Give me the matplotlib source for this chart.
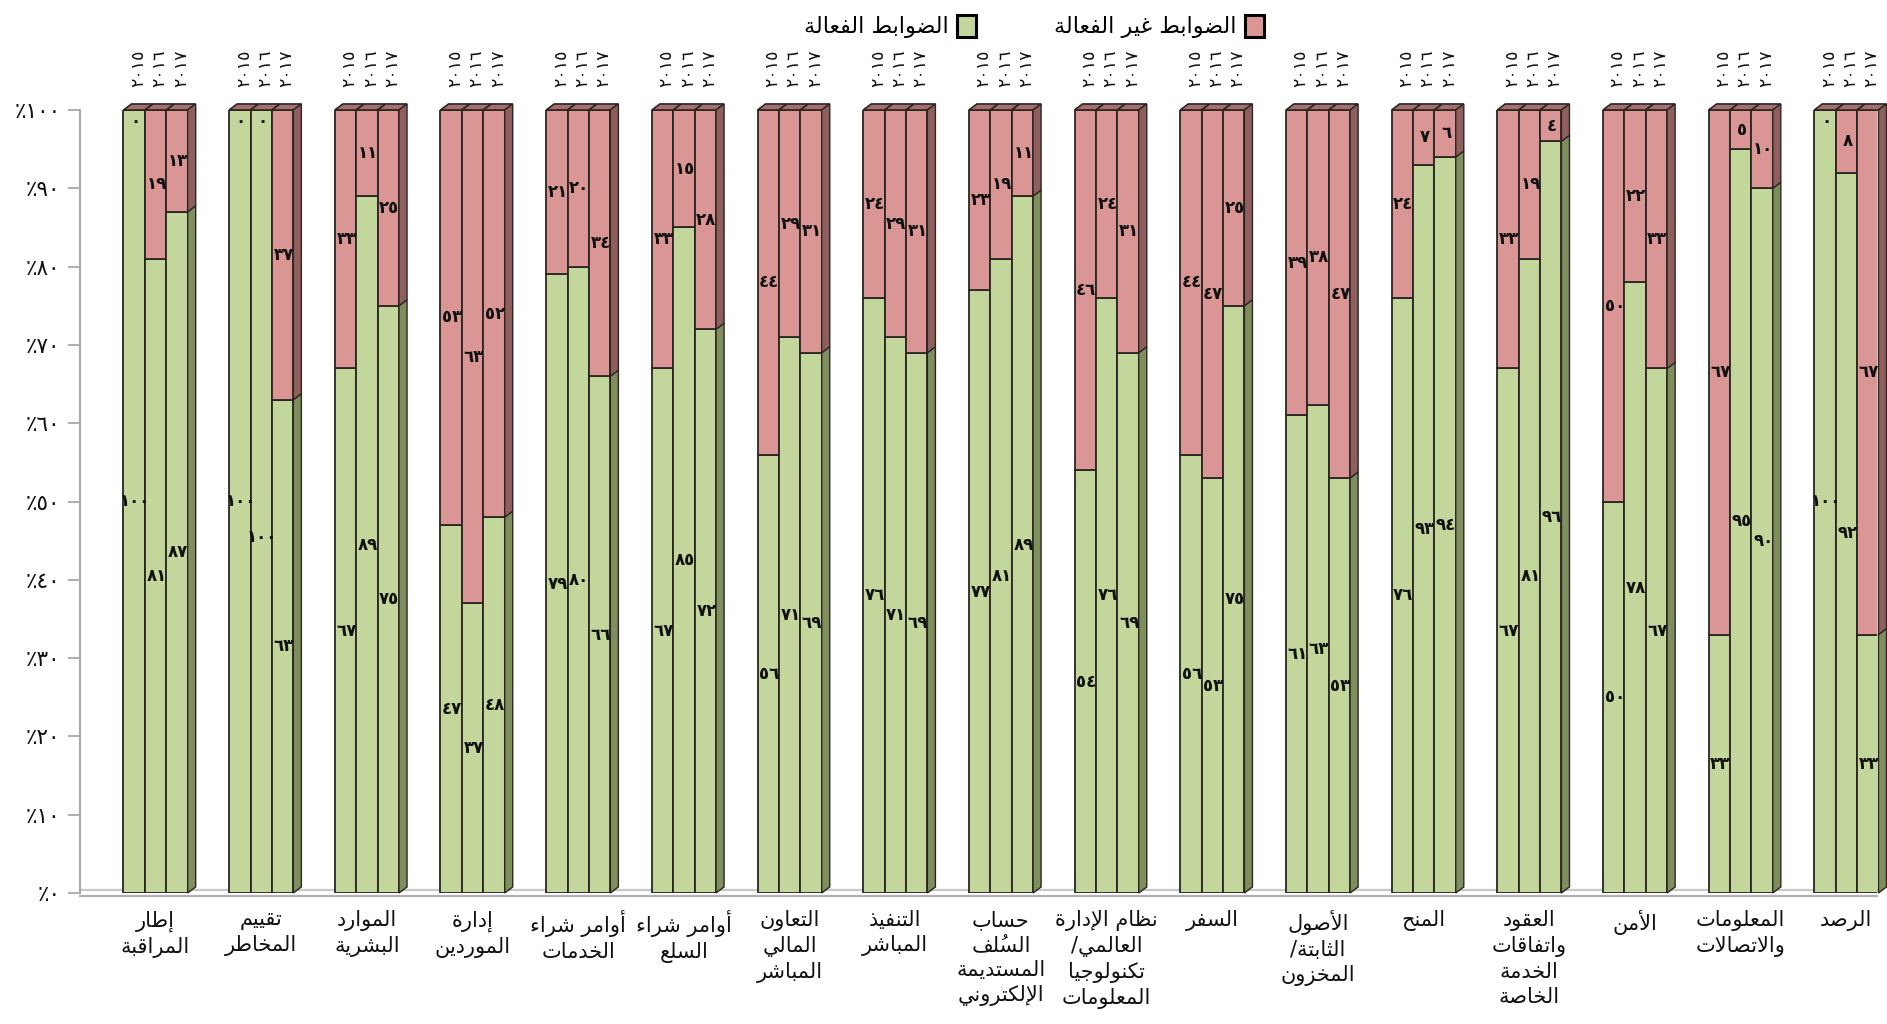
import matplotlib
matplotlib.use("Agg")
import matplotlib.pyplot as plt
from matplotlib.patches import Polygon, Patch

plt.rcParams['font.family'] = ['DejaVu Sans']

# ---------------- data ----------------
categories = [
    ["إطار", "المراقبة"],
    ["تقييم", "المخاطر"],
    ["الموارد", "البشرية"],
    ["إدارة", "الموردين"],
    ["أوامر شراء", "الخدمات"],
    ["أوامر شراء", "السلع"],
    ["التعاون", "المالي", "المباشر"],
    ["التنفيذ", "المباشر"],
    ["حساب", "السُلف", "المستديمة", "الإلكتروني"],
    ["نظام الإدارة", "العالمي/", "تكنولوجيا", "المعلومات"],
    ["السفر"],
    ["الأصول", "الثابتة/", "المخزون"],
    ["المنح"],
    ["العقود", "واتفاقات", "الخدمة", "الخاصة"],
    ["الأمن"],
    ["المعلومات", "والاتصالات"],
    ["الرصد"],
]
years = ["2015", "2016", "2017"]
effective_2015 = [100, 100, 67, 47, 79, 67, 56, 76, 77, 54, 56, 61, 76, 67, 50, 33, 100]
effective_2016 = [81, 100, 89, 37, 80, 85, 71, 71, 81, 76, 53, 63, 93, 81, 78, 95, 92]
effective_2017 = [87, 63, 75, 48, 66, 72, 69, 69, 89, 69, 75, 53, 94, 96, 67, 90, 33]
ineffective_2015 = [0, 0, 33, 53, 21, 33, 44, 24, 23, 46, 44, 39, 24, 33, 50, 67, 0]
ineffective_2016 = [19, 0, 11, 63, 20, 15, 29, 29, 19, 24, 47, 38, 7, 19, 22, 5, 8]
ineffective_2017 = [13, 37, 25, 52, 34, 28, 31, 31, 11, 31, 25, 47, 6, 4, 33, 10, 67]
legend_effective = "الضوابط الفعالة"
legend_ineffective = "الضوابط غير الفعالة"
yticks = list(range(0, 101, 10))

effective = [effective_2015, effective_2016, effective_2017]
ineffective = [ineffective_2015, ineffective_2016, ineffective_2017]

# ---------------- Arabic shaping helpers ----------------
_AR = {0x0621: (0xFE80, None, None, None)}
for code, start in [(0x0622, 0xFE81), (0x0623, 0xFE83), (0x0624, 0xFE85), (0x0625, 0xFE87),
                    (0x0627, 0xFE8D), (0x0629, 0xFE93), (0x062F, 0xFEA9), (0x0630, 0xFEAB),
                    (0x0631, 0xFEAD), (0x0632, 0xFEAF), (0x0648, 0xFEED), (0x0649, 0xFEEF)]:
    _AR[code] = (start, start + 1, None, None)
for code, start in [(0x0626, 0xFE89), (0x0628, 0xFE8F), (0x062A, 0xFE95), (0x062B, 0xFE99),
                    (0x062C, 0xFE9D), (0x062D, 0xFEA1), (0x062E, 0xFEA5), (0x0633, 0xFEB1),
                    (0x0634, 0xFEB5), (0x0635, 0xFEB9), (0x0636, 0xFEBD), (0x0637, 0xFEC1),
                    (0x0638, 0xFEC5), (0x0639, 0xFEC9), (0x063A, 0xFECD), (0x0641, 0xFED1),
                    (0x0642, 0xFED5), (0x0643, 0xFED9), (0x0644, 0xFEDD), (0x0645, 0xFEE1),
                    (0x0646, 0xFEE5), (0x0647, 0xFEE9), (0x064A, 0xFEF1)]:
    _AR[code] = (start, start + 1, start + 2, start + 3)
_LAM_ALEF = {0x0622: (0xFEF5, 0xFEF6), 0x0623: (0xFEF7, 0xFEF8),
             0x0625: (0xFEF9, 0xFEFA), 0x0627: (0xFEFB, 0xFEFC)}


def _trans(c):
    return 0x064B <= ord(c) <= 0x0652


def shape_line(s):
    ch = list(s)
    n = len(ch)
    out = []
    i = 0
    while i < n:
        c = ch[i]
        o = ord(c)
        if o in _AR:
            j = i - 1
            while j >= 0 and _trans(ch[j]):
                j -= 1
            pj = j >= 0 and ord(ch[j]) in _AR and _AR[ord(ch[j])][2] is not None
            k = i + 1
            while k < n and _trans(ch[k]):
                k += 1
            if o == 0x0644 and k < n and ord(ch[k]) in _LAM_ALEF:
                marks = ''.join(ch[i + 1:k])
                m = k + 1
                while m < n and _trans(ch[m]):
                    marks += ch[m]
                    m += 1
                out.append(marks + chr(_LAM_ALEF[ord(ch[k])][1 if pj else 0]))
                i = m
                continue
            f = _AR[o]
            nk = (k < n and ord(ch[k]) in _AR and ord(ch[k]) != 0x0621 and f[2] is not None)
            if pj and nk:
                g = f[3]
            elif pj:
                g = f[1]
            elif nk:
                g = f[2]
            else:
                g = f[0]
            if g is None:
                g = f[0]
            base = chr(g)
        else:
            base = c
        i += 1
        marks = ''
        while i < n and _trans(ch[i]):
            marks += ch[i]
            i += 1
        # visual order (RTL buffer reversed): mark precedes its base
        out.append(marks + base)
    return ''.join(reversed(out))


def shape(lines):
    if isinstance(lines, str):
        lines = [lines]
    return '\n'.join(shape_line(l) for l in lines)


def ar_digits(v):
    return str(v).translate(str.maketrans('0123456789', '٠١٢٣٤٥٦٧٨٩'))


# ---------------- style ----------------
GREEN = '#c3d69b'
GREEN_SIDE = '#7f8e5d'
RED = '#d99694'
RED_SIDE = '#8f5f5e'
RED_TOP = '#a46f6e'
EDGE = '#2b2622'

W_PX, H_PX = 1887, 1024
fig = plt.figure(figsize=(W_PX / 100, H_PX / 100), dpi=100)
ax_left, ax_right = 80 / W_PX, 1877 / W_PX
ax_bottom, ax_top = 1 - 893 / H_PX, 1 - 110 / H_PX
ax = fig.add_axes([ax_left, ax_bottom, ax_right - ax_left, ax_top - ax_bottom])

ncat = len(categories)
w = 0.2025          # bar width (group spacing = 1)
dx = 0.076          # 3D depth in x
dy = 0.77           # 3D depth in y
xmin, xmax = -0.715, ncat - 1 + 0.29
ax.set_xlim(xmin, xmax)
ax.set_ylim(0, 100)

# floor
ax.plot([xmin, xmax], [0.35, 0.35], color='#c8c8c8', lw=1.6, zorder=0.5, clip_on=False)
ax.plot([xmin, xmax], [-0.35, -0.35], color='#b0b0b0', lw=1.6, zorder=0.5, clip_on=False)

prev_green_label_y = [None] * ncat
for yi in range(3):
    xs = [i + (yi - 1) * w for i in range(ncat)]
    g_raw = effective[yi]
    r_raw = ineffective[yi]
    g_h = [g / (g + r) * 100 for g, r in zip(g_raw, r_raw)]
    r_h = [r / (g + r) * 100 for g, r in zip(g_raw, r_raw)]
    ax.bar(xs, g_h, width=w, color=GREEN, edgecolor=EDGE, linewidth=1.3, zorder=2)
    ax.bar(xs, r_h, bottom=g_h, width=w, color=RED, edgecolor=EDGE, linewidth=1.3, zorder=2)
    for ci, (x, gh, rh, gv, rv) in enumerate(zip(xs, g_h, r_h, g_raw, r_raw)):
        xl, xr = x - w / 2, x + w / 2
        top = gh + rh
        # top face
        ax.add_patch(Polygon([(xl, top), (xr, top), (xr + dx, top + dy), (xl + dx, top + dy)],
                             closed=True, fc=RED_TOP, ec=EDGE, lw=1.2, zorder=3, clip_on=False))
        if yi == 2:
            ax.add_patch(Polygon([(xr, 0), (xr, gh), (xr + dx, gh + dy), (xr + dx, dy)],
                                 closed=True, fc=GREEN_SIDE, ec=EDGE, lw=1.0, zorder=3, clip_on=False))
            ax.add_patch(Polygon([(xr, gh), (xr, top), (xr + dx, top + dy), (xr + dx, gh + dy)],
                                 closed=True, fc=RED_SIDE, ec=EDGE, lw=1.0, zorder=3, clip_on=False))
        # value labels (staggered only when identical to the neighbour's label height)
        gy = gh / 2
        if prev_green_label_y[ci] is not None and abs(gy - prev_green_label_y[ci]) < 0.5:
            gy -= 4.5
        prev_green_label_y[ci] = gy
        ax.text(x + 0.01, gy, ar_digits(gv), ha='center', va='center', fontsize=12,
                fontweight='bold', color='#111111', zorder=5)
        ry = gh + rh / 2 if rh > 0 else top - 1.4
        ax.text(x + 0.01, ry, ar_digits(rv), ha='center', va='center', fontsize=12,
                fontweight='bold', color='#111111', zorder=5)
        # year labels
        ax.text(x + dx / 2, 105.3, ar_digits(years[yi]), rotation=90, ha='center', va='center',
                fontsize=12.5, color='#111111', clip_on=False)

# category labels
for i, lines in enumerate(categories):
    ax.text(i, -2.2, shape(lines), ha='center', va='top', fontsize=15, linespacing=1.3,
            color='#111111', clip_on=False)

# axes styling
ax.set_yticks(yticks)
ax.set_yticklabels(['٪' + ar_digits(v) for v in yticks], fontsize=15.5, color='#111111')
ax.set_xticks([])
for s in ['top', 'right', 'bottom']:
    ax.spines[s].set_visible(False)
ax.spines['left'].set_color('#a8a8a8')
ax.spines['left'].set_linewidth(1.5)
ax.tick_params(axis='y', direction='out', length=9, width=1.3, color='#a8a8a8', pad=5)

# legend
handles = [Patch(fc=GREEN, ec='black', lw=2.2), Patch(fc=RED, ec='black', lw=2.2)]
fig.legend(handles=handles, labels=[shape(legend_effective), shape(legend_ineffective)],
           ncol=2, markerfirst=False, loc='upper center', bbox_to_anchor=(0.548, 1.005),
           frameon=False, fontsize=16, handlelength=0.85, handleheight=1.15,
           columnspacing=3.5, handletextpad=0.4)

fig.savefig('out.png', dpi=100)
